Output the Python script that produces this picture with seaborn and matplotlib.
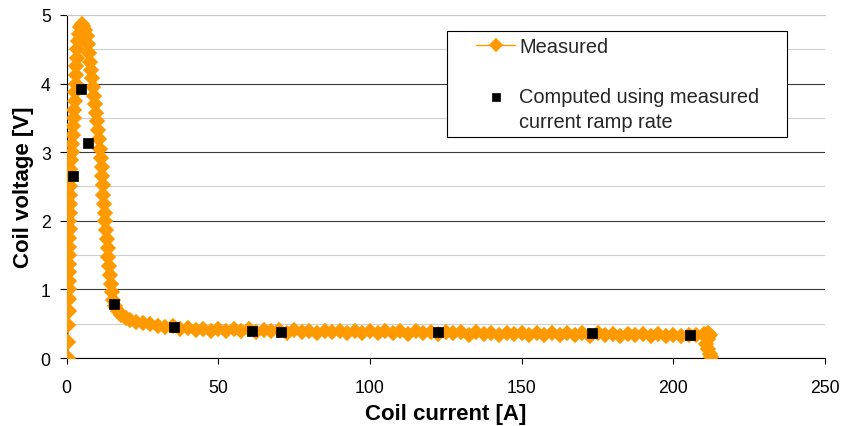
import numpy as np
import pandas as pd
import matplotlib
matplotlib.use("Agg")
import matplotlib.pyplot as plt
import seaborn as sns
from matplotlib.ticker import MultipleLocator

# ---------------- data ----------------
meas_current = [
    0.4, 0.5, 0.5, 0.6, 0.6, 0.7, 0.6, 0.8, 0.7, 0.8, 0.9, 0.8, 1.0, 0.9, 1.0, 1.1,
    1.0, 1.2, 1.3, 1.2, 1.4, 1.6, 1.8, 2.0, 2.2, 2.4, 2.5, 2.7, 2.8, 3.0, 3.1, 3.2,
    3.4, 3.5, 3.7, 4.0, 4.4, 4.9,
    5.5, 6.1, 6.6, 7.0, 7.3, 7.7, 8.0, 8.3, 8.7, 9.0, 9.4, 9.7, 10.0, 10.4, 10.8,
    11.1, 11.3, 11.5, 11.7, 11.9, 12.1, 12.3, 12.5, 12.7, 12.9, 13.2, 13.5, 13.7,
    14.0, 14.3, 14.6, 14.9, 15.3, 15.9, 16.8, 18.0, 19.4, 21.0, 23.0, 25.0, 27.5,
    30.0, 32.5, 35.0, 37.5, 40.0, 42.5, 45.0, 47.5, 50.0, 52.5, 55.0, 57.5, 60.0,
    62.5, 65.0, 67.5, 70.0, 72.5, 75.0, 77.5, 80.0, 82.5, 85.0, 87.5, 90.0, 92.5,
    95.0, 97.5, 100.0, 102.5, 105.0, 107.5, 110.0, 112.5, 115.0, 117.5, 120.0,
    122.5, 125.0, 127.5, 130.0, 132.5, 135.0, 137.5, 140.0, 142.5, 145.0, 147.5,
    150.0, 152.5, 155.0, 157.5, 160.0, 162.5, 165.0, 167.5, 170.0, 172.5, 175.0,
    177.5, 180.0, 182.5, 185.0, 187.5, 190.0, 192.5, 195.0, 197.5, 200.0, 202.5,
    205.0, 207.5, 210.0, 211.5, 212.0, 211.3, 210.8, 211.3, 212.0, 212.3,
]
meas_voltage = [
    0.00, 0.23, 0.48, 0.69, 0.86, 1.00, 1.12, 1.25, 1.37, 1.50, 1.62, 1.75, 1.88,
    2.00, 2.12, 2.25, 2.38, 2.50, 2.62, 2.75, 2.88, 3.00, 3.12, 3.25, 3.38, 3.50,
    3.62, 3.75, 3.88, 4.00, 4.12, 4.25, 4.38, 4.50, 4.62, 4.72, 4.82, 4.87,
    4.84, 4.78, 4.70, 4.58, 4.45, 4.32, 4.20, 4.08, 3.95, 3.82, 3.70, 3.57, 3.45,
    3.32, 3.19, 3.05, 2.92, 2.78, 2.65, 2.52, 2.38, 2.25, 2.12, 1.99, 1.86, 1.73,
    1.60, 1.47, 1.34, 1.21, 1.08, 0.96, 0.85, 0.76, 0.69, 0.63, 0.59, 0.56, 0.53,
    0.51, 0.49,
    0.47, 0.45, 0.46, 0.42, 0.44, 0.41, 0.43, 0.40, 0.43, 0.39, 0.42, 0.40, 0.42,
    0.38, 0.41, 0.39, 0.41, 0.37, 0.41, 0.38, 0.40, 0.37, 0.40, 0.38, 0.40, 0.36,
    0.40, 0.37, 0.39, 0.36, 0.39, 0.37, 0.39, 0.35, 0.39, 0.36, 0.38, 0.35, 0.38,
    0.36, 0.38, 0.34, 0.38, 0.35, 0.37, 0.34, 0.37, 0.35, 0.37, 0.33, 0.37, 0.34,
    0.36, 0.33, 0.36, 0.34, 0.36, 0.32, 0.36, 0.33, 0.35, 0.32, 0.35, 0.33, 0.35,
    0.32, 0.35, 0.32, 0.34, 0.32, 0.34, 0.33, 0.35, 0.37, 0.33, 0.27, 0.20, 0.13,
    0.06, 0.01,
]
comp_current = [2.0, 4.6, 6.9, 15.5, 35.3, 61.1, 70.5, 122.5, 173.3, 205.6]
comp_voltage = [2.65, 3.92, 3.14, 0.79, 0.45, 0.40, 0.38, 0.38, 0.36, 0.34]

x_ticks = [0, 50, 100, 150, 200, 250]
y_ticks = [0, 1, 2, 3, 4, 5]
label_measured = "Measured"
label_computed = "Computed using measured\ncurrent ramp rate"

measured = pd.DataFrame({"current": meas_current, "voltage": meas_voltage})
computed = pd.DataFrame({"current": comp_current, "voltage": comp_voltage})

# ---------------- style ----------------
sns.set_theme(style="white")
plt.rcParams["font.family"] = ["Liberation Sans", "DejaVu Sans"]

ORANGE = "#FF9900"

fig = plt.figure(figsize=(8.44, 4.27), dpi=100)
ax = fig.add_axes([66.7 / 844, 1 - 359 / 427, 758.3 / 844, 343 / 427])

sns.lineplot(data=measured, x="current", y="voltage", sort=False, estimator=None,
             color=ORANGE, linewidth=1.0, marker="D", markersize=7.2,
             markeredgecolor=ORANGE, markeredgewidth=1.2, label=label_measured,
             ax=ax, zorder=3)
sns.lineplot(data=computed, x="current", y="voltage", sort=False, estimator=None,
             color="black", linestyle="none", marker="s", markersize=7.5,
             markeredgecolor="black", markeredgewidth=0.5, label=label_computed,
             ax=ax, zorder=4)

ax.set_xlim(x_ticks[0], x_ticks[-1])
ax.set_ylim(y_ticks[0], y_ticks[-1])
ax.set_xticks(x_ticks)
ax.set_yticks(y_ticks)
ax.yaxis.set_minor_locator(MultipleLocator(0.5))

ax.set_axisbelow(True)
ax.grid(False)
ax.grid(which="major", axis="y", color="#3a3a3a", linewidth=0.8)
ax.grid(which="minor", axis="y", color="#cfcfcf", linewidth=0.8)
for tick, loc in zip(ax.yaxis.get_major_ticks(), ax.yaxis.get_majorticklocs()):
    if loc == y_ticks[-1]:
        tick.gridline.set_color("#c8c8c8")

for s in ["left", "bottom"]:
    ax.spines[s].set_color("black")
    ax.spines[s].set_linewidth(0.8)
ax.spines["right"].set_visible(False)
ax.spines["top"].set_color("#c8c8c8")
ax.spines["top"].set_linewidth(0.8)

ax.tick_params(axis="both", which="major", direction="out", color="black",
               width=0.8, labelsize=12.7, labelcolor="black", left=True, bottom=True)
ax.tick_params(axis="x", which="major", length=4.5, pad=10.5)
ax.tick_params(axis="y", which="major", length=5, pad=6.5)
ax.tick_params(which="minor", length=0, left=False, bottom=False)

ax.set_xlabel("Coil current [A]", fontsize=16, fontweight="bold", color="black", labelpad=5)
ax.set_ylabel("Coil voltage [V]", fontsize=16, fontweight="bold", color="black", labelpad=5)

# ---------------- legend ----------------
handles, labels = ax.get_legend_handles_labels()
x0 = (447 - 66.7) / 758.3
x1 = (787 - 66.7) / 758.3
ytop = (359 - 32) / 343
leg = ax.legend(handles, labels, loc="upper left",
                bbox_to_anchor=(x0, ytop - 0.3, x1 - x0, 0.3), mode="expand",
                borderaxespad=0, fontsize=14.4, frameon=True, fancybox=False,
                framealpha=1, edgecolor="black", borderpad=0.3, handlelength=3.1,
                handletextpad=0.2, labelspacing=1.55, numpoints=1)
leg.get_frame().set_linewidth(0.8)
for t in leg.get_texts():
    t.set_linespacing(1.38)
for hd in leg.legend_handles:
    n = len(hd.get_xdata())
    hd.set_xdata(np.linspace(23 * 0.72, 62 * 0.72, n))
    hd.set_markersize(hd.get_markersize() * 0.85)
sq = leg.legend_handles[1]
sq.set_ydata(np.asarray(sq.get_ydata()) + 9.0)

fig.savefig("out.png", dpi=100)
